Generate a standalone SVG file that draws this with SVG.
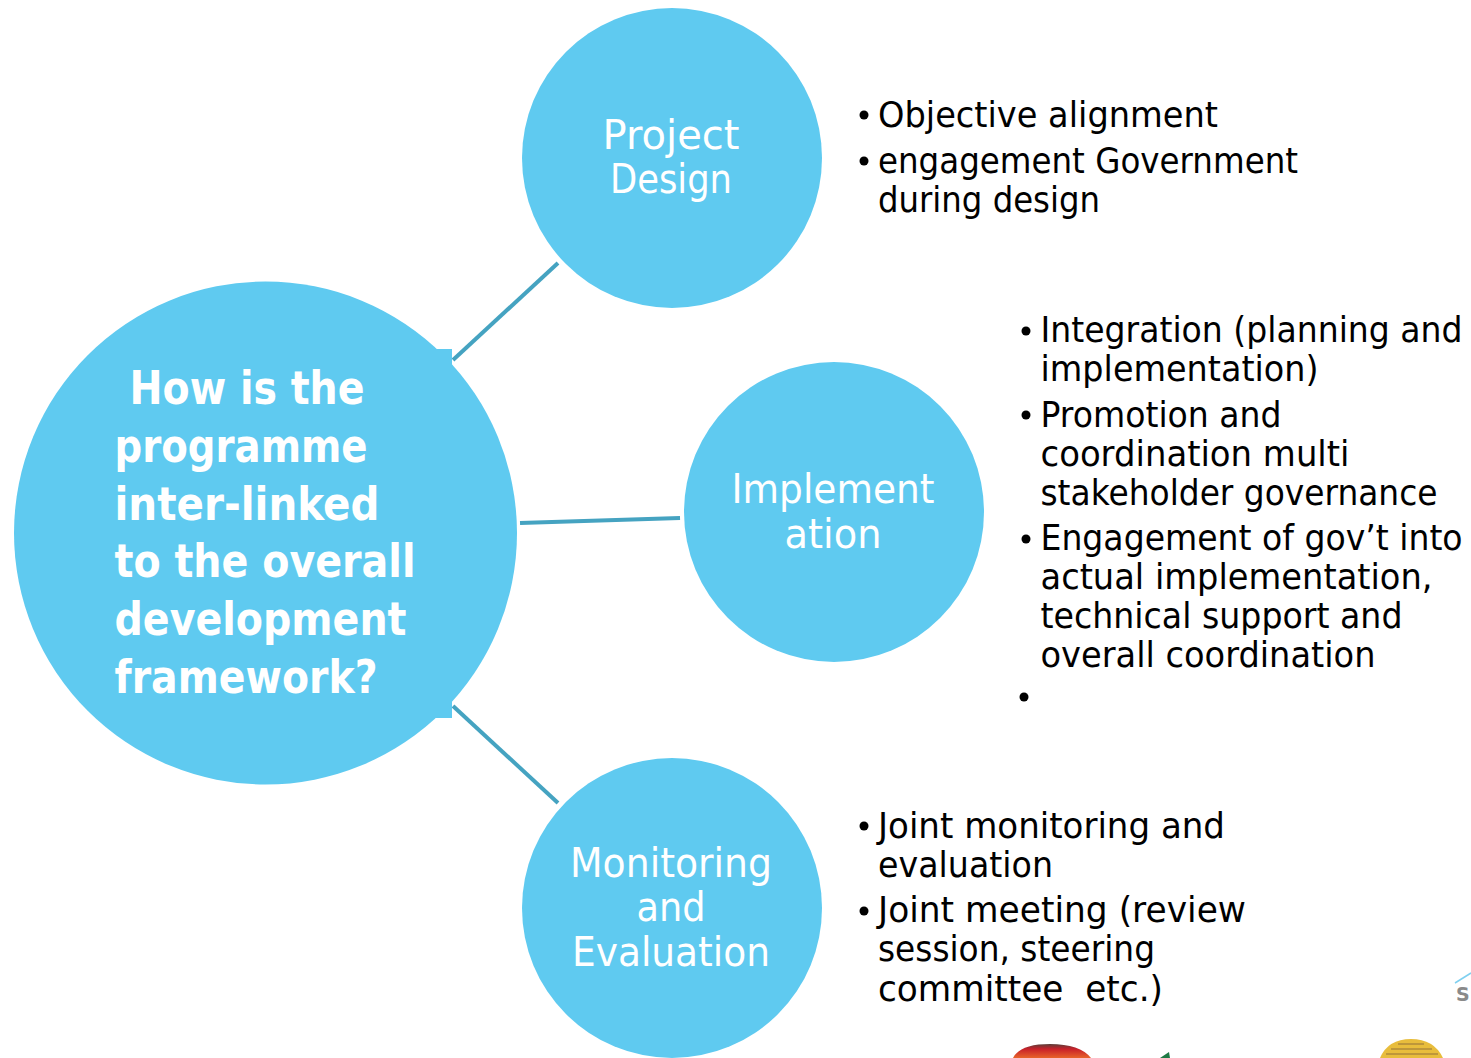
<svg xmlns="http://www.w3.org/2000/svg" width="1471" height="1058" viewBox="0 0 1471 1058">
<style>
.c{fill:#5fcaf0}
.l{stroke:#45a3c1;stroke-width:4;fill:none}
text{font-family:"DejaVu Sans",sans-serif}
.n{fill:#fff;font-size:40px;text-anchor:middle}
.h{fill:#fff;font-size:46px;font-weight:bold}
.b{fill:#000;font-size:35px}
</style>
<defs>
<linearGradient id="red" x1="0" y1="0" x2="0" y2="1">
<stop offset="0" stop-color="#5a3f3a"/><stop offset=".35" stop-color="#c8202a"/><stop offset="1" stop-color="#e8642a"/>
</linearGradient>
</defs>
<rect width="1471" height="1058" fill="#fff"/>
<g id="connectors">
<line class="l" x1="453" y1="360" x2="558" y2="263"/>
<line class="l" x1="520" y1="523" x2="680" y2="518"/>
<line class="l" x1="453" y1="706" x2="558" y2="803"/>
</g>
<g id="hub">
<circle class="c" cx="265.500" cy="533" r="251.500"/>
<rect class="c" x="435" y="349" width="17" height="20"/>
<rect class="c" x="435" y="698" width="17" height="20"/>
<text class="h" x="129.500" y="404" textLength="235" lengthAdjust="spacingAndGlyphs">How is the</text>
<text class="h" x="114.500" y="462" textLength="253" lengthAdjust="spacingAndGlyphs">programme</text>
<text class="h" x="114.500" y="520" textLength="265" lengthAdjust="spacingAndGlyphs">inter-linked</text>
<text class="h" x="114.500" y="577" textLength="301" lengthAdjust="spacingAndGlyphs">to the overall</text>
<text class="h" x="114.500" y="635" textLength="292" lengthAdjust="spacingAndGlyphs">development</text>
<text class="h" x="114.500" y="693" textLength="263" lengthAdjust="spacingAndGlyphs">framework?</text>
</g>
<g id="design">
<circle class="c" cx="672" cy="158" r="150"/>
<text class="n" x="671" y="149" textLength="137" lengthAdjust="spacingAndGlyphs">Project</text>
<text class="n" x="671" y="193" textLength="122" lengthAdjust="spacingAndGlyphs">Design</text>
</g>
<g id="implementation">
<circle class="c" cx="834" cy="512" r="150"/>
<text class="n" x="833" y="503" textLength="203" lengthAdjust="spacingAndGlyphs">Implement</text>
<text class="n" x="833" y="547.500" textLength="97" lengthAdjust="spacingAndGlyphs">ation</text>
</g>
<g id="monitoring">
<circle class="c" cx="672" cy="908" r="150"/>
<text class="n" x="671" y="877" textLength="202" lengthAdjust="spacingAndGlyphs">Monitoring</text>
<text class="n" x="671" y="921" textLength="69" lengthAdjust="spacingAndGlyphs">and</text>
<text class="n" x="671" y="966" textLength="198" lengthAdjust="spacingAndGlyphs">Evaluation</text>
</g>
<g id="design-notes">
<circle cx="864" cy="115" r="4.500"/><circle cx="864" cy="161" r="4.500"/>
<text class="b" x="878" y="127" textLength="340" lengthAdjust="spacingAndGlyphs">Objective alignment</text>
<text class="b" x="878" y="173" textLength="420" lengthAdjust="spacingAndGlyphs">engagement Government</text>
<text class="b" x="878" y="212" textLength="222" lengthAdjust="spacingAndGlyphs">during design</text>
</g>
<g id="implementation-notes">
<circle cx="1026" cy="331" r="4.500"/><circle cx="1026" cy="415" r="4.500"/><circle cx="1026" cy="539" r="4.500"/><circle cx="1024" cy="697" r="4.500"/>
<text class="b" transform="translate(1040.500 342) scale(.9 1)" textLength="469" lengthAdjust="spacingAndGlyphs">Integration (planning and</text>
<text class="b" x="1040.500" y="381" textLength="278" lengthAdjust="spacingAndGlyphs">implementation)</text>
<text class="b" x="1040.500" y="427" textLength="241" lengthAdjust="spacingAndGlyphs">Promotion and</text>
<text class="b" x="1040.500" y="466" textLength="309" lengthAdjust="spacingAndGlyphs">coordination multi</text>
<text class="b" x="1040.500" y="505" textLength="397" lengthAdjust="spacingAndGlyphs">stakeholder governance</text>
<text class="b" transform="translate(1040.500 550) scale(.9 1)" textLength="469" lengthAdjust="spacingAndGlyphs">Engagement of gov’t into</text>
<text class="b" x="1040.500" y="589" textLength="392" lengthAdjust="spacingAndGlyphs">actual implementation,</text>
<text class="b" x="1040.500" y="628" textLength="362" lengthAdjust="spacingAndGlyphs">technical support and</text>
<text class="b" x="1040.500" y="667" textLength="335" lengthAdjust="spacingAndGlyphs">overall coordination</text>
</g>
<g id="monitoring-notes">
<circle cx="864" cy="826" r="4.500"/><circle cx="864" cy="911" r="4.500"/>
<text class="b" x="878" y="838" textLength="347" lengthAdjust="spacingAndGlyphs">Joint monitoring and</text>
<text class="b" x="878" y="877" textLength="175" lengthAdjust="spacingAndGlyphs">evaluation</text>
<text class="b" x="878" y="922" textLength="368" lengthAdjust="spacingAndGlyphs">Joint meeting (review</text>
<text class="b" x="878" y="961" textLength="277" lengthAdjust="spacingAndGlyphs">session, steering</text>
<text class="b" x="878" y="1001" textLength="285" lengthAdjust="spacingAndGlyphs" xml:space="preserve">committee  etc.)</text>
</g>
<g id="logo-fragments">
<path d="M1455 983L1471 973" stroke="#7fd0f0" stroke-width="1.500" fill="none"/>
<text x="1456" y="1001" style="font-size:19px;font-weight:bold" fill="#8a8a8a">S</text>
<path d="M1013 1058Q1020 1044 1050 1044Q1080 1044 1091 1058Z" fill="url(#red)"/>
<path d="M1160 1058L1169 1052L1170 1058Z" fill="#1f7a45"/>
<path d="M1380 1058Q1388 1039 1411 1039Q1434 1039 1443 1058Z" fill="#e8bd3c"/>
<path d="M1398 1044H1424M1391 1049H1432M1386 1054H1438" stroke="#b08a3a" stroke-width="1.500"/>
</g>
</svg>
